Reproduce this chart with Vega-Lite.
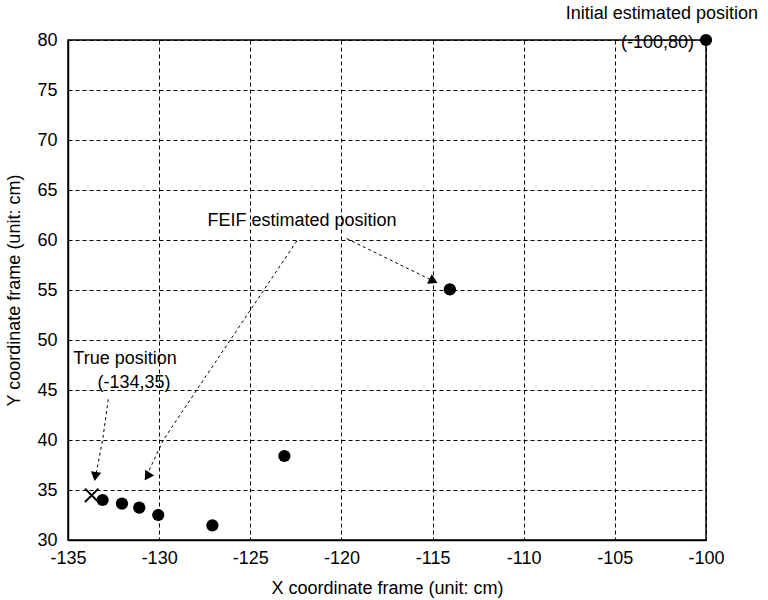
{
  "$schema": "https://vega.github.io/schema/vega-lite/v6.json",
  "width": 638,
  "height": 500,
  "autosize": {"type": "none"},
  "padding": {"left": 68, "top": 40, "right": 62, "bottom": 60},
  "background": "white",
  "config": {
    "view": {"stroke": "black", "strokeWidth": 1.5},
    "font": "Liberation Sans",
    "axis": {
      "labelFont": "Liberation Sans",
      "labelFontSize": 18,
      "labelColor": "black",
      "labelFlush": false,
      "labelExpr": "'' + datum.value",
      "titleFont": "Liberation Sans",
      "titleFontSize": 18,
      "titleFontWeight": "normal",
      "titleColor": "black",
      "domainColor": "black",
      "domainWidth": 1.5,
      "tickSize": 0,
      "grid": true,
      "gridColor": "black",
      "gridOpacity": 1,
      "gridDash": [4, 3],
      "gridWidth": 1
    }
  },
  "datasets": {
    "estimates": [
      {"x": -100, "y": 80},
      {"x": -114.05, "y": 55.07},
      {"x": -123.13, "y": 38.4},
      {"x": -127.08, "y": 31.47},
      {"x": -130.05, "y": 32.5},
      {"x": -131.09, "y": 33.24},
      {"x": -132.04, "y": 33.64},
      {"x": -133.1, "y": 34.0}
    ],
    "truth": [
      {"x": -133.7, "y": 34.47}
    ],
    "arrows": [
      {"arrow": "a1", "i": 0, "x": -119.71, "y": 60.14},
      {"arrow": "a1", "i": 1, "x": -114.78, "y": 55.74},
      {"arrow": "a2", "i": 0, "x": -122.45, "y": 59.9},
      {"arrow": "a2", "i": 1, "x": -127.94, "y": 45.0},
      {"arrow": "a2", "i": 2, "x": -129.77, "y": 40.0},
      {"arrow": "a2", "i": 3, "x": -130.78, "y": 36.07},
      {"arrow": "a3", "i": 0, "x": -132.79, "y": 44.07},
      {"arrow": "a3", "i": 1, "x": -133.1, "y": 40.0},
      {"arrow": "a3", "i": 2, "x": -133.52, "y": 36.07}
    ],
    "heads": [
      {"arrow": "a1", "x": -114.95, "y": 55.9},
      {"arrow": "a2", "x": -130.65, "y": 36.35},
      {"arrow": "a3", "x": -133.5, "y": 36.35}
    ],
    "labels": [
      {"label": "Initial estimated position", "x": -102.42, "y": 82.57},
      {"label": "(-100,80)", "x": -102.66, "y": 79.67},
      {"label": "FEIF estimated position", "x": -122.16, "y": 61.87},
      {"label": "True position", "x": -131.87, "y": 48.07},
      {"label": "(-134,35)", "x": -131.38, "y": 45.67}
    ]
  },
  "layer": [
    {
      "data": {"name": "arrows"},
      "mark": {"type": "line", "color": "black", "strokeWidth": 1, "strokeDash": [3, 3]},
      "encoding": {
        "x": {"field": "x", "type": "quantitative", "scale": {"domain": [-135, -100], "nice": false, "zero": false},
              "axis": {"values": [-135, -130, -125, -120, -115, -110, -105, -100], "grid": true, "title": "X coordinate frame (unit: cm)", "titlePadding": 12, "labelPadding": 9}},
        "y": {"field": "y", "type": "quantitative", "scale": {"domain": [30, 80], "nice": false, "zero": false},
              "axis": {"values": [30, 35, 40, 45, 50, 55, 60, 65, 70, 75, 80], "grid": true, "title": "Y coordinate frame (unit: cm)", "titlePadding": 13, "labelPadding": 11}},
        "detail": {"field": "arrow"},
        "order": {"field": "i"}
      }
    },
    {
      "data": {"name": "heads"},
      "transform": [{"filter": "datum.arrow === 'a1'"}],
      "mark": {"type": "point", "shape": "triangle-up", "filled": true, "color": "black", "opacity": 1, "size": 110, "angle": 116},
      "encoding": {"x": {"field": "x", "type": "quantitative"}, "y": {"field": "y", "type": "quantitative"}}
    },
    {
      "data": {"name": "heads"},
      "transform": [{"filter": "datum.arrow === 'a2'"}],
      "mark": {"type": "point", "shape": "triangle-up", "filled": true, "color": "black", "opacity": 1, "size": 110, "angle": 212},
      "encoding": {"x": {"field": "x", "type": "quantitative"}, "y": {"field": "y", "type": "quantitative"}}
    },
    {
      "data": {"name": "heads"},
      "transform": [{"filter": "datum.arrow === 'a3'"}],
      "mark": {"type": "point", "shape": "triangle-up", "filled": true, "color": "black", "opacity": 1, "size": 110, "angle": 189},
      "encoding": {"x": {"field": "x", "type": "quantitative"}, "y": {"field": "y", "type": "quantitative"}}
    },
    {
      "data": {"name": "estimates"},
      "mark": {"type": "point", "shape": "circle", "filled": true, "color": "black", "opacity": 1, "size": 150},
      "encoding": {"x": {"field": "x", "type": "quantitative"}, "y": {"field": "y", "type": "quantitative"}}
    },
    {
      "data": {"name": "truth"},
      "mark": {"type": "point", "shape": "M-1,-1L1,1M-1,1L1,-1", "filled": false, "color": "black", "opacity": 1, "strokeWidth": 2, "size": 180},
      "encoding": {"x": {"field": "x", "type": "quantitative"}, "y": {"field": "y", "type": "quantitative"}}
    },
    {
      "data": {"name": "labels"},
      "mark": {"type": "text", "font": "Liberation Sans", "fontSize": 18, "color": "black", "align": "center", "baseline": "middle"},
      "encoding": {"x": {"field": "x", "type": "quantitative"}, "y": {"field": "y", "type": "quantitative"}, "text": {"field": "label"}}
    }
  ]
}
